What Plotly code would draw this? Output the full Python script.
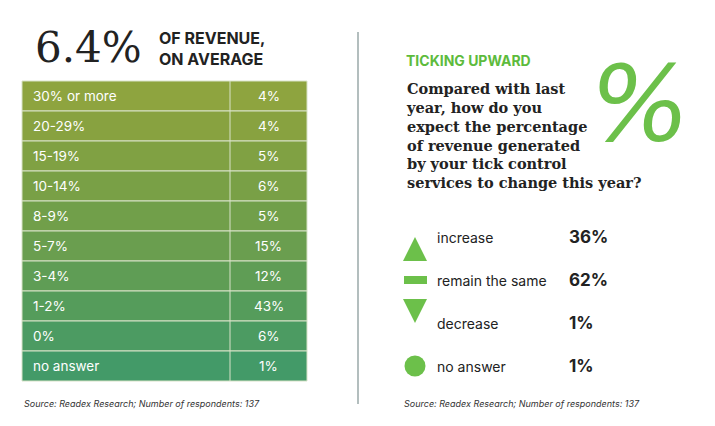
import plotly.graph_objects as go

ranges = ["30% or more", "20-29%", "15-19%", "10-14%", "8-9%", "5-7%", "3-4%", "1-2%", "0%", "no answer"]
shares = ["4%", "4%", "5%", "6%", "5%", "15%", "12%", "43%", "6%", "1%"]
row_colors = ["#8ea43f", "#88a240", "#80a143", "#79a046", "#719f4a", "#6a9e4f", "#5f9d55", "#559c5b", "#4c9b62", "#439a68"]

answers = ["increase", "remain the same", "decrease", "no answer"]
answer_pct = ["36%", "62%", "1%", "1%"]
icons = ["arrow-up", "rect", "arrow-down", "circle"]

W, H = 715, 426
OFF = 8  # page body margin
fig = go.Figure()
shapes = []
ann = []
SANS = "Inter"

# table
x0, xm, x1 = 22, 230, 307
top, rh = 81, 30
for i, (r, s) in enumerate(zip(ranges, shares)):
    y = top + i * rh
    shapes.append(dict(type="rect", x0=x0, x1=x1, y0=y, y1=y + rh, fillcolor=row_colors[i],
                       line=dict(color="#d8e2c8", width=1)))
    ann.append(dict(x=x0 + 9, y=y + rh / 2, text=r, xanchor="left", showarrow=False,
                    font=dict(family=SANS, size=13.5, color="white")))
    ann.append(dict(x=(xm + x1) / 2, y=y + rh / 2, text=s, showarrow=False,
                    font=dict(family=SANS, size=13.5, color="white")))
shapes.append(dict(type="line", x0=xm, x1=xm, y0=top, y1=top + rh * len(ranges), line=dict(color="#d8e2c8", width=1)))

ann.append(dict(x=33, y=47, text="6.4%", xanchor="left", showarrow=False,
                font=dict(family="DejaVu Serif", size=42, color="#222")))
ann.append(dict(x=157, y=48, text="<b>OF REVENUE,<br>ON AVERAGE</b>", xanchor="left", align="left", showarrow=False,
                font=dict(family=SANS, size=16, color="#222")))
ann.append(dict(x=22, y=403, text="<i>Source: Readex Research; Number of respondents: 137</i>", xanchor="left",
                showarrow=False, font=dict(family=SANS, size=9, color="#333")))

# divider
shapes.append(dict(type="line", x0=358, x1=358, y0=32, y1=404, line=dict(color="#9aa8a8", width=1.5)))

# right panel
ann.append(dict(x=404, y=60, text="<b>TICKING UPWARD</b>", xanchor="left", showarrow=False,
                font=dict(family=SANS, size=14, color="#5dbb3c")))
ann.append(dict(x=404, y=135, text="<b>Compared with last<br>year, how do you<br>expect the percentage<br>of revenue generated<br>by your tick control<br>services to change this year?</b>",
                xanchor="left", align="left", showarrow=False,
                font=dict(family="DejaVu Serif", size=14.5, color="#222")))
ann.append(dict(x=640, y=105, text="<i>%</i>", showarrow=False,
                font=dict(family="DejaVu Sans", size=105, color="#6cc04a")))

ys = [237, 280, 323, 366]
for a, p, ic, y in zip(answers, answer_pct, icons, ys):
    if ic == "rect":
        shapes.append(dict(type="rect", x0=404, x1=427, y0=y - 4, y1=y + 4, fillcolor="#6cc04a", line_width=0))
    else:
        fig.add_trace(go.Scatter(x=[415], y=[y], mode="markers", hoverinfo="skip",
                                 marker=dict(symbol=ic, size=24 if ic != "circle" else 21, color="#6cc04a")))
    ann.append(dict(x=435, y=y, text=a, xanchor="left", showarrow=False,
                    font=dict(family=SANS, size=14, color="#222")))
    ann.append(dict(x=567, y=y, text="<b>" + p + "</b>", xanchor="left", showarrow=False,
                    font=dict(family=SANS, size=17, color="#222")))
ann.append(dict(x=402, y=403, text="<i>Source: Readex Research; Number of respondents: 137</i>", xanchor="left",
                showarrow=False, font=dict(family=SANS, size=9, color="#333")))

fig.update_layout(width=W, height=H, margin=dict(l=0, r=0, t=0, b=0), showlegend=False,
                  plot_bgcolor="white", paper_bgcolor="white", shapes=shapes, annotations=ann,
                  xaxis=dict(range=[OFF, W + OFF], visible=False, fixedrange=True),
                  yaxis=dict(range=[H + OFF, OFF], visible=False, fixedrange=True))
fig.write_html("out.html")
